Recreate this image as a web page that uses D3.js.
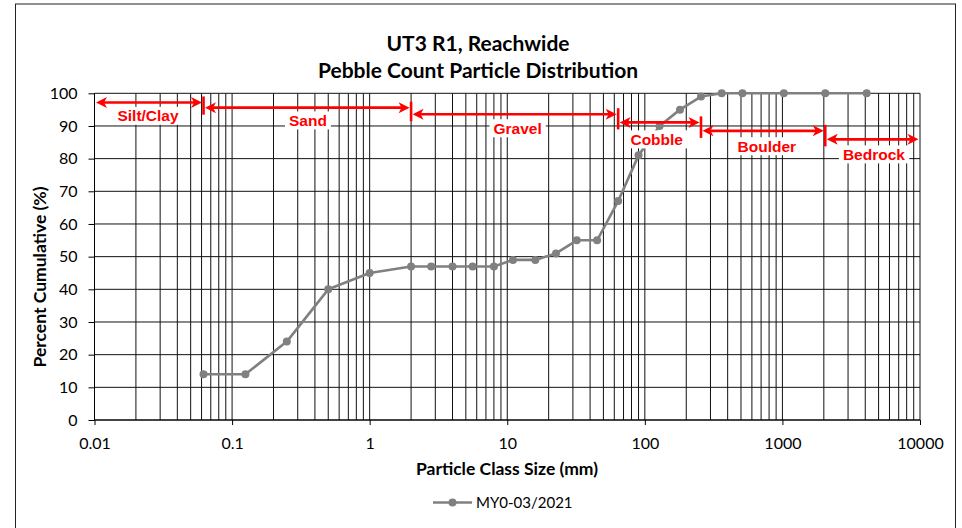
<!DOCTYPE html>
<html>
<head>
<meta charset="utf-8">
<script src="https://cdn.jsdelivr.net/npm/d3@7"></script>
<style>
  html, body { margin: 0; padding: 0; background: #fff; }
  svg { display: block; }
  text { font-family: Lato, "Open Sans", sans-serif; }
</style>
</head>
<body>
<svg id="chart" width="962" height="528"></svg>
<script>
// Particle size classes (mm) and cumulative percent finer
const sizes = [0.062, 0.125, 0.25, 0.5, 1, 2, 2.8, 4, 5.6, 8, 11, 16, 22.6, 32, 45, 64, 90, 128, 180, 256, 362, 512, 1024, 2048, 4096];
const cumulative = [14, 14, 24, 40, 45, 47, 47, 47, 47, 47, 49, 49, 51, 55, 55, 67, 81, 90, 95, 99, 100, 100, 100, 100, 100];
const seriesName = "MY0-03/2021";

// Sediment class ranges (mm)
const classNames = ["Silt/Clay", "Sand", "Gravel", "Cobble", "Boulder", "Bedrock"];
const classFrom = [0.01, 0.062, 2, 64, 256, 2048];
const classTo = [0.062, 2, 64, 256, 2048, 10000];

// Axis ticks
const xTickValues = [0.01, 0.1, 1, 10, 100, 1000, 10000];
const xTickLabels = ["0.01", "0.1", "1", "10", "100", "1000", "10000"];
const yTickValues = [0, 10, 20, 30, 40, 50, 60, 70, 80, 90, 100];

const titleLines = ["UT3 R1, Reachwide", "Pebble Count Particle Distribution"];
const xTitle = "Particle Class Size (mm)";
const yTitle = "Percent Cumulative (%)";

// Layout of the class annotations (percent levels and label anchors in mm)
const arrowLevel = [97.2, 95.6, 93.6, 91.1, 88.5, 85.9];
const labelLevel = [93.1, 91.7, 89.3, 85.9, 83.8, 81.3];
const labelAt = [0.0245, 0.356, 11.9, 122, 771, 4624];

const svg = d3.select("#chart");
const plot = { left: 94.5, right: 920, top: 93.3, bottom: 420 };

const x = d3.scaleLog().domain([0.01, 10000]).range([plot.left, plot.right]);
const y = d3.scaleLinear().domain([0, 100]).range([plot.bottom, plot.top]);

// Chart frame
svg.append("rect").attr("x", 15.5).attr("y", 4).attr("width", 940).attr("height", 600)
  .attr("fill", "#fff").attr("stroke", "#222").attr("stroke-width", 1);

// Gridlines: log minors per decade and horizontal every 10%
const gridX = [];
for (let e = -2; e <= 3; e++) for (let m = 1; m <= 9; m++) gridX.push(m * Math.pow(10, e));
gridX.push(10000);

const grid = svg.append("g").attr("stroke", "#111").attr("stroke-width", 1);
grid.selectAll("line.v").data(gridX).join("line").attr("class", "v")
  .attr("x1", d => x(d)).attr("x2", d => x(d))
  .attr("y1", plot.top).attr("y2", plot.bottom);
grid.selectAll("line.h").data(yTickValues).join("line").attr("class", "h")
  .attr("x1", plot.left).attr("x2", plot.right)
  .attr("y1", d => y(d)).attr("y2", d => y(d));

// Axes
const xAxis = d3.axisBottom(x).tickValues(xTickValues)
  .tickFormat((d, i) => xTickLabels[i]).tickSize(5).tickPadding(13);
const gx = svg.append("g").attr("transform", `translate(0,${plot.bottom})`).call(xAxis);
const yAxis = d3.axisLeft(y).tickValues(yTickValues).tickSize(6).tickPadding(11);
const gy = svg.append("g").attr("transform", `translate(${plot.left},0)`).call(yAxis);
[gx, gy].forEach(g => {
  g.select(".domain").attr("stroke", "#000").attr("stroke-width", 1);
  g.selectAll(".tick line").attr("stroke", "#000");
  g.selectAll(".tick text").attr("fill", "#000").style("font-size", "16px")
    .style("font-family", "Lato, 'Open Sans', sans-serif");
});
gy.select(".domain").attr("d", `M-0,${plot.bottom}V${plot.top}`);
gx.select(".domain").attr("d", `M${plot.left},0H${plot.right}`);

// Cumulative distribution
const pts = sizes.map((s, i) => [s, cumulative[i]]);
const grey = "#808080";
svg.append("path").datum(pts)
  .attr("fill", "none").attr("stroke", grey).attr("stroke-width", 2.6)
  .attr("stroke-linejoin", "round")
  .attr("d", d3.line().x(d => x(d[0])).y(d => y(d[1])));
svg.selectAll("circle.pt").data(pts).join("circle").attr("class", "pt")
  .attr("cx", d => x(d[0])).attr("cy", d => y(d[1])).attr("r", 4).attr("fill", grey);

// Class annotations
const red = "#ff0000";
const ann = svg.append("g");
function arrowHead(g, tipX, tipY, dir) {
  const L = 11, Hh = 5.5, notch = 3;
  const p = d3.path();
  p.moveTo(tipX, tipY);
  p.lineTo(tipX + dir * L, tipY - Hh);
  p.lineTo(tipX + dir * (L - notch), tipY);
  p.lineTo(tipX + dir * L, tipY + Hh);
  p.closePath();
  g.append("path").attr("d", p.toString()).attr("fill", red);
}
classNames.forEach((name, i) => {
  const x0 = x(classFrom[i]) + 1.5;
  const x1 = x(classTo[i]) - 1.5;
  const yy = y(arrowLevel[i]);
  ann.append("line").attr("x1", x0 + 6).attr("x2", x1 - 6).attr("y1", yy).attr("y2", yy)
    .attr("stroke", red).attr("stroke-width", 2.6);
  arrowHead(ann, x0, yy, 1);
  arrowHead(ann, x1, yy, -1);
  if (i < classNames.length - 1) {
    const bx = x(classTo[i]);
    ann.append("line").attr("x1", bx).attr("x2", bx)
      .attr("y1", yy - 6).attr("y2", y(arrowLevel[i + 1]) + 7)
      .attr("stroke", red).attr("stroke-width", 2.6);
  }
});
classNames.forEach((name, i) => {
  const cx = x(labelAt[i]), cy = y(labelLevel[i]);
  const g = ann.append("g");
  const t = g.append("text").attr("x", cx).attr("y", cy).attr("dy", "0.36em")
    .attr("text-anchor", "middle").attr("fill", red)
    .style("font-family", "Arial, 'Liberation Sans', sans-serif")
    .style("font-weight", "bold").style("font-size", "15.5px").text(name);
  const bb = t.node().getBBox();
  g.insert("rect", "text").attr("x", bb.x - 4).attr("y", cy - 9)
    .attr("width", bb.width + 8).attr("height", 18).attr("fill", "#fff");
});

// Titles
svg.append("text").attr("x", 478).attr("y", 44).attr("dy", "0.35em")
  .attr("text-anchor", "middle").style("font-weight", "bold").style("font-size", "21px")
  .text(titleLines[0]);
svg.append("text").attr("x", 478).attr("y", 71).attr("dy", "0.35em")
  .attr("text-anchor", "middle").style("font-weight", "bold").style("font-size", "21px")
  .text(titleLines[1]);
svg.append("text").attr("x", 507).attr("y", 469).attr("dy", "0.35em")
  .attr("text-anchor", "middle").style("font-weight", "bold").style("font-size", "17.5px")
  .text(xTitle);
svg.append("text").attr("transform", "translate(40,277) rotate(-90)").attr("dy", "0.35em")
  .attr("text-anchor", "middle").style("font-weight", "bold").style("font-size", "17.5px")
  .text(yTitle);

// Legend
const lg = svg.append("g").attr("transform", "translate(433,502.5)");
lg.append("line").attr("x1", 0).attr("x2", 39).attr("stroke", grey).attr("stroke-width", 2.6);
lg.append("circle").attr("cx", 19.5).attr("r", 4).attr("fill", grey);
lg.append("text").attr("x", 43).attr("dy", "0.35em").style("font-size", "15px").text(seriesName);
</script>
</body>
</html>
